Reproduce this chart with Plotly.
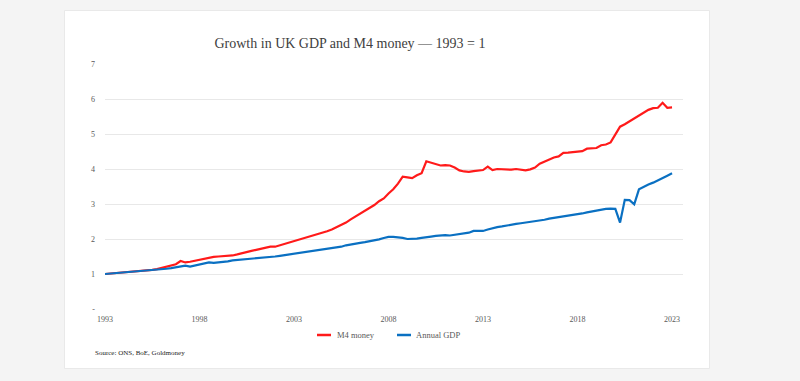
import plotly.graph_objects as go

# ---------------- data (quarterly, 1993 Q1 = 1) ----------------
start_year = 1993
m4_money = [
    1.00, 1.01, 1.02, 1.03,   # 1993
    1.04, 1.05, 1.06, 1.07,   # 1994
    1.08, 1.10, 1.12, 1.14,   # 1995
    1.17, 1.20, 1.24, 1.28,   # 1996
    1.37, 1.33, 1.35, 1.38,   # 1997
    1.41, 1.45, 1.47, 1.49,   # 1998
    1.50, 1.51, 1.51, 1.53,   # 1999
    1.56, 1.60, 1.63, 1.66,   # 2000
    1.69, 1.72, 1.76, 1.78,   # 2001
    1.78, 1.82, 1.86, 1.90,   # 2002
    1.93, 1.97, 2.00, 2.04,   # 2003
    2.08, 2.13, 2.18, 2.22,   # 2004
    2.27, 2.33, 2.40, 2.47,   # 2005
    2.56, 2.64, 2.72, 2.80,   # 2006
    2.88, 2.97, 3.08, 3.16,   # 2007
    3.30, 3.42, 3.58, 3.78,   # 2008
    3.76, 3.74, 3.82, 3.88,   # 2009
    4.22, 4.18, 4.14, 4.10,   # 2010
    4.11, 4.10, 4.04, 3.96,   # 2011
    3.93, 3.92, 3.94, 3.96,   # 2012
    3.97, 4.07, 3.97, 4.00,   # 2013
    3.99, 3.99, 3.98, 4.00,   # 2014
    3.99, 3.96, 3.99, 4.04,   # 2015
    4.15, 4.21, 4.26, 4.33,   # 2016
    4.36, 4.46, 4.47, 4.48,   # 2017
    4.49, 4.51, 4.58, 4.59,   # 2018
    4.60, 4.68, 4.70, 4.76,   # 2019
    4.98, 5.21, 5.28, 5.36,   # 2020
    5.45, 5.54, 5.62, 5.69,   # 2021
    5.74, 5.75, 5.89, 5.75,   # 2022
    5.76,                     # 2023
]
annual_gdp = [
    1.00, 1.01, 1.02, 1.03,   # 1993
    1.04, 1.05, 1.06, 1.07,   # 1994
    1.08, 1.09, 1.10, 1.12,   # 1995
    1.13, 1.15, 1.17, 1.19,   # 1996
    1.20, 1.24, 1.21, 1.24,   # 1997
    1.26, 1.28, 1.33, 1.32,   # 1998
    1.33, 1.33, 1.36, 1.39,   # 1999
    1.40, 1.41, 1.42, 1.43,   # 2000
    1.44, 1.46, 1.47, 1.48,   # 2001
    1.50, 1.52, 1.54, 1.56,   # 2002
    1.58, 1.60, 1.62, 1.64,   # 2003
    1.65, 1.67, 1.68, 1.70,   # 2004
    1.72, 1.75, 1.78, 1.82,   # 2005
    1.85, 1.87, 1.89, 1.91,   # 2006
    1.93, 1.96, 1.99, 2.03,   # 2007
    2.06, 2.06, 2.05, 2.03,   # 2008
    2.00, 2.00, 2.01, 2.03,   # 2009
    2.04, 2.07, 2.09, 2.11,   # 2010
    2.11, 2.10, 2.12, 2.14,   # 2011
    2.16, 2.18, 2.23, 2.22,   # 2012
    2.23, 2.27, 2.31, 2.34,   # 2013
    2.36, 2.39, 2.41, 2.43,   # 2014
    2.45, 2.47, 2.47, 2.49,   # 2015
    2.52, 2.55, 2.58, 2.60,   # 2016
    2.61, 2.63, 2.65, 2.69,   # 2017
    2.71, 2.73, 2.76, 2.79,   # 2018
    2.81, 2.84, 2.86, 2.87,   # 2019
    2.86, 2.47, 3.12, 3.11,   # 2020
    2.99, 3.42, 3.50, 3.56,   # 2021
    3.61, 3.67, 3.74, 3.81,   # 2022
    3.88,                     # 2023
]
x_tick_years = [1993, 1998, 2003, 2008, 2013, 2018, 2023]
x_tick_labels = ["1993", "1998", "2003", "2008", "2013", "2018", "2023"]
y_tick_vals = [0, 1, 2, 3, 4, 5, 6, 7]
y_tick_labels = ["-", "1", "2", "3", "4", "5", "6", "7"]
series_names = ["M4 money", "Annual GDP"]

quarters = [start_year + i / 4 for i in range(len(m4_money))]

# ---------------- layout geometry (pixels) ----------------
W, H = 800, 381
PL, PR, PT, PB = 105, 683, 64, 309

def px(x):
    return (x - PL) / (PR - PL)

def py(y):
    return (PB - y) / (PB - PT)

RED = "#ff1a1a"
BLUE = "#0a70c2"
SERIF = "Liberation Serif, Times New Roman, serif"

fig = go.Figure()
fig.add_trace(go.Scatter(x=quarters, y=m4_money, mode="lines", name=series_names[0],
                         line=dict(color=RED, width=2.2)))
fig.add_trace(go.Scatter(x=quarters, y=annual_gdp, mode="lines", name=series_names[1],
                         line=dict(color=BLUE, width=2.2)))

shapes = [
    # white card
    dict(type="rect", xref="paper", yref="paper", x0=px(64.5), x1=px(709.5), y0=py(368.5), y1=py(10.5),
         fillcolor="white", line=dict(color="#e9e9e9", width=1), layer="below"),
    # legend samples
    dict(type="line", xref="paper", yref="paper", x0=px(317), x1=px(331), y0=py(335), y1=py(335),
         line=dict(color=RED, width=2.5)),
    dict(type="line", xref="paper", yref="paper", x0=px(397), x1=px(411), y0=py(335), y1=py(335),
         line=dict(color=BLUE, width=2.5)),
]

annotations = [
    dict(text=series_names[0], xref="paper", yref="paper", x=px(335), y=py(335),
         xanchor="left", yanchor="middle", showarrow=False,
         font=dict(family=SERIF, size=8.5, color="#595959")),
    dict(text=series_names[1], xref="paper", yref="paper", x=px(414), y=py(335),
         xanchor="left", yanchor="middle", showarrow=False,
         font=dict(family=SERIF, size=8.5, color="#595959")),
    dict(text="Source: ONS, BoE, Goldmoney", xref="paper", yref="paper", x=px(93), y=py(353),
         xanchor="left", yanchor="middle", showarrow=False,
         font=dict(family=SERIF, size=7, color="#222222")),
]

fig.update_layout(
    width=W, height=H,
    margin=dict(l=PL, r=W - PR, t=PT, b=H - PB, pad=0),
    paper_bgcolor="#f4f4f4",
    plot_bgcolor="white",
    showlegend=False,
    title=dict(text="Growth in UK GDP and M4 money — 1993 = 1",
               x=350 / W, xanchor="center", y=1 - 43 / H, yanchor="middle",
               font=dict(family=SERIF, size=14, color="#404040")),
    shapes=shapes,
    annotations=annotations,
    xaxis=dict(range=[1993, 2023.58], tickmode="array", tickvals=x_tick_years,
               ticktext=x_tick_labels, showgrid=False, zeroline=False,
               showline=False, ticks="", ticklabelstandoff=4,
               tickfont=dict(family=SERIF, size=8, color="#595959")),
    yaxis=dict(range=[0, 7], tickmode="array", tickvals=y_tick_vals, ticktext=y_tick_labels,
               showgrid=True, gridcolor="#e8e8e8", gridwidth=1, zeroline=False,
               showline=False, ticks="", ticklabelstandoff=9,
               tickfont=dict(family=SERIF, size=8, color="#595959")),
)

fig.write_html(
    "out.html",
    config={"displayModeBar": False},
    post_script="document.body.style.margin='0';document.body.style.background='#f4f4f4';"
                "document.documentElement.style.overflow='hidden';",
)
